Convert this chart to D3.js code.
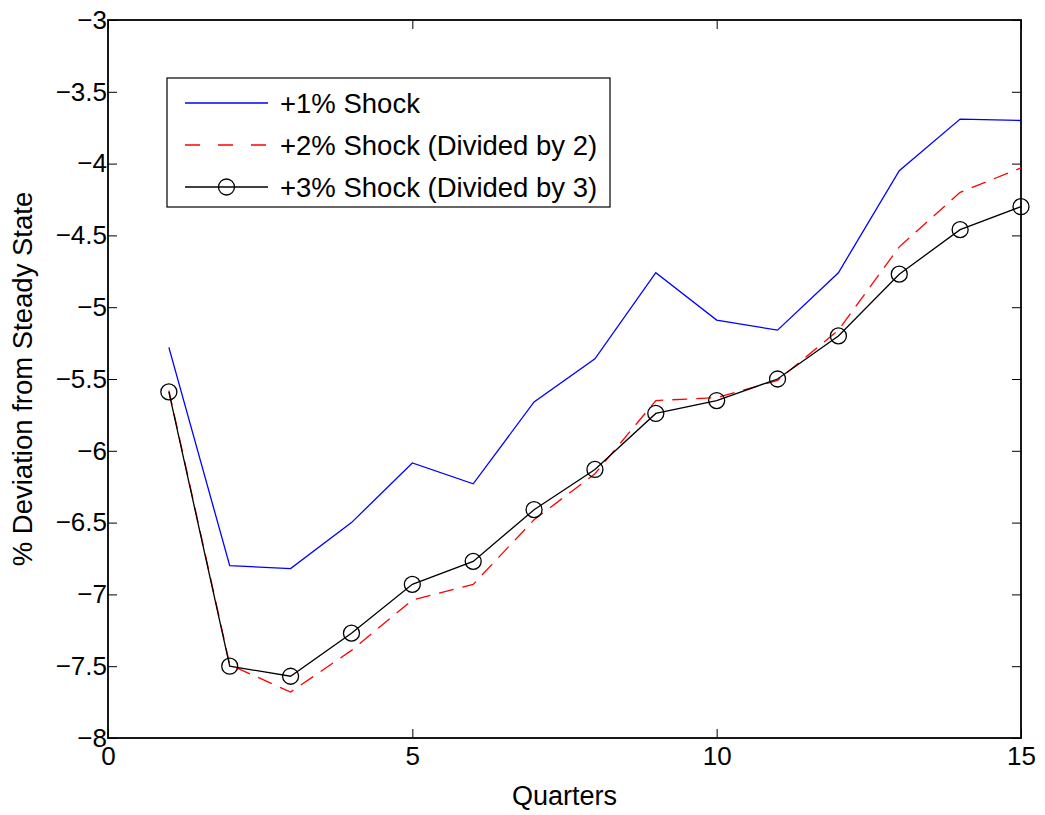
<!DOCTYPE html>
<html>
<head>
<meta charset="utf-8">
<script src="https://cdn.jsdelivr.net/npm/d3@7"></script>
<style>
  body { margin: 0; background: #fff; }
  text { font-family: "Liberation Sans", Arial, sans-serif; }
</style>
</head>
<body>
<svg width="1045" height="815"></svg>
<script>
// quarters and series
var quarters = [1,2,3,4,5,6,7,8,9,10,11,12,13,14,15];
var shock1 = [-5.28,-6.80,-6.82,-6.50,-6.085,-6.23,-5.66,-5.36,-4.76,-5.09,-5.16,-4.76,-4.05,-3.69,-3.70];
var shock2 = [-5.58,-7.49,-7.68,-7.39,-7.04,-6.93,-6.48,-6.16,-5.65,-5.63,-5.51,-5.16,-4.58,-4.20,-4.03];
var shock3 = [-5.59,-7.50,-7.57,-7.27,-6.93,-6.77,-6.41,-6.13,-5.74,-5.65,-5.50,-5.20,-4.77,-4.46,-4.30];
var xTicks = [0,5,10,15];
var yTicks = [-8,-7.5,-7,-6.5,-6,-5.5,-5,-4.5,-4,-3.5,-3];
var legendLabels = ["+1% Shock","+2% Shock (Divided by 2)","+3% Shock (Divided by 3)"];

var svg = d3.select("svg");
var mLeft = 108, mRight = 1021, mTop = 20, mBot = 738;

var xScale = d3.scaleLinear().domain([0,15]).range([mLeft,mRight]);
var yScale = d3.scaleLinear().domain([-8,-3]).range([mBot,mTop]);

var tickLen = 9;
var fs = 26;
var fmt = function(d){ return String(d).replace("-", "\u2212"); };

// axes, ticks pointing inward like matlab
var xAxis = d3.axisBottom(xScale).tickValues(xTicks).tickSize(-tickLen).tickPadding(9).tickFormat(fmt);
var xTop = d3.axisTop(xScale).tickValues(xTicks).tickSize(-tickLen).tickFormat("");
var yAxis = d3.axisLeft(yScale).tickValues(yTicks).tickSize(-tickLen).tickPadding(1).tickFormat(fmt);
var yRight = d3.axisRight(yScale).tickValues(yTicks).tickSize(-tickLen).tickFormat("");

var axes = [
  svg.append("g").attr("transform","translate(0,"+mBot+")").call(xAxis),
  svg.append("g").attr("transform","translate(0,"+mTop+")").call(xTop),
  svg.append("g").attr("transform","translate("+mLeft+",0)").call(yAxis),
  svg.append("g").attr("transform","translate("+mRight+",0)").call(yRight)
];
axes.forEach(function(g){
  g.select(".domain").remove();
  g.selectAll("line").attr("stroke","#000").attr("stroke-width",1);
  g.selectAll("text").attr("font-size",fs).attr("fill","#000")
   .attr("font-family","Liberation Sans, Arial, sans-serif");
});

svg.append("rect")
   .attr("x",mLeft).attr("y",mTop)
   .attr("width",mRight-mLeft).attr("height",mBot-mTop)
   .attr("fill","none").attr("stroke","#000").attr("stroke-width",1.8);

var line = d3.line()
             .x(function(d,i){ return xScale(quarters[i]); })
             .y(function(d){ return yScale(d); });

svg.append("path").datum(shock1)
   .attr("d",line).attr("fill","none")
   .attr("stroke","#0000ff").attr("stroke-width",1.3);

svg.append("path").datum(shock2)
   .attr("d",line).attr("fill","none")
   .attr("stroke","#ff0000").attr("stroke-width",1.3)
   .attr("stroke-dasharray","15,9");

svg.append("path").datum(shock3)
   .attr("d",line).attr("fill","none")
   .attr("stroke","#000").attr("stroke-width",1.3);

svg.selectAll("circle.mk")
   .data(shock3)
   .enter()
   .append("circle")
   .attr("class","mk")
   .attr("cx",function(d,i){ return xScale(quarters[i]); })
   .attr("cy",function(d){ return yScale(d); })
   .attr("r",8)
   .attr("fill","none")
   .attr("stroke","#000")
   .attr("stroke-width",1.3);

// legend
var lg = svg.append("g").attr("transform","translate(167,78)");
lg.append("rect")
  .attr("width",443).attr("height",129)
  .attr("fill","#fff").attr("stroke","#000").attr("stroke-width",1.2);

var styles = [
  {color:"#0000ff", dash:null},
  {color:"#ff0000", dash:"15,18"},
  {color:"#000", dash:null}
];
legendLabels.forEach(function(lab,i){
  var y = 25 + i*42;
  lg.append("line")
    .attr("x1",18).attr("x2",101)
    .attr("y1",y).attr("y2",y)
    .attr("stroke",styles[i].color).attr("stroke-width",1.3)
    .attr("stroke-dasharray",styles[i].dash);
  if(i==2){
    lg.append("circle").attr("cx",59.5).attr("cy",y).attr("r",8)
      .attr("fill","none").attr("stroke","#000").attr("stroke-width",1.3);
  }
  lg.append("text")
    .attr("x",113).attr("y",y+10)
    .attr("font-size",27.5)
    .text(lab);
});

// axis labels
svg.append("text")
   .attr("x",(mLeft+mRight)/2).attr("y",805)
   .attr("text-anchor","middle").attr("font-size",27)
   .text("Quarters");

svg.append("text")
   .attr("transform","translate(32,"+((mTop+mBot)/2)+") rotate(-90)")
   .attr("text-anchor","middle").attr("font-size",27.5)
   .text("% Deviation from Steady State");
</script>
</body>
</html>
